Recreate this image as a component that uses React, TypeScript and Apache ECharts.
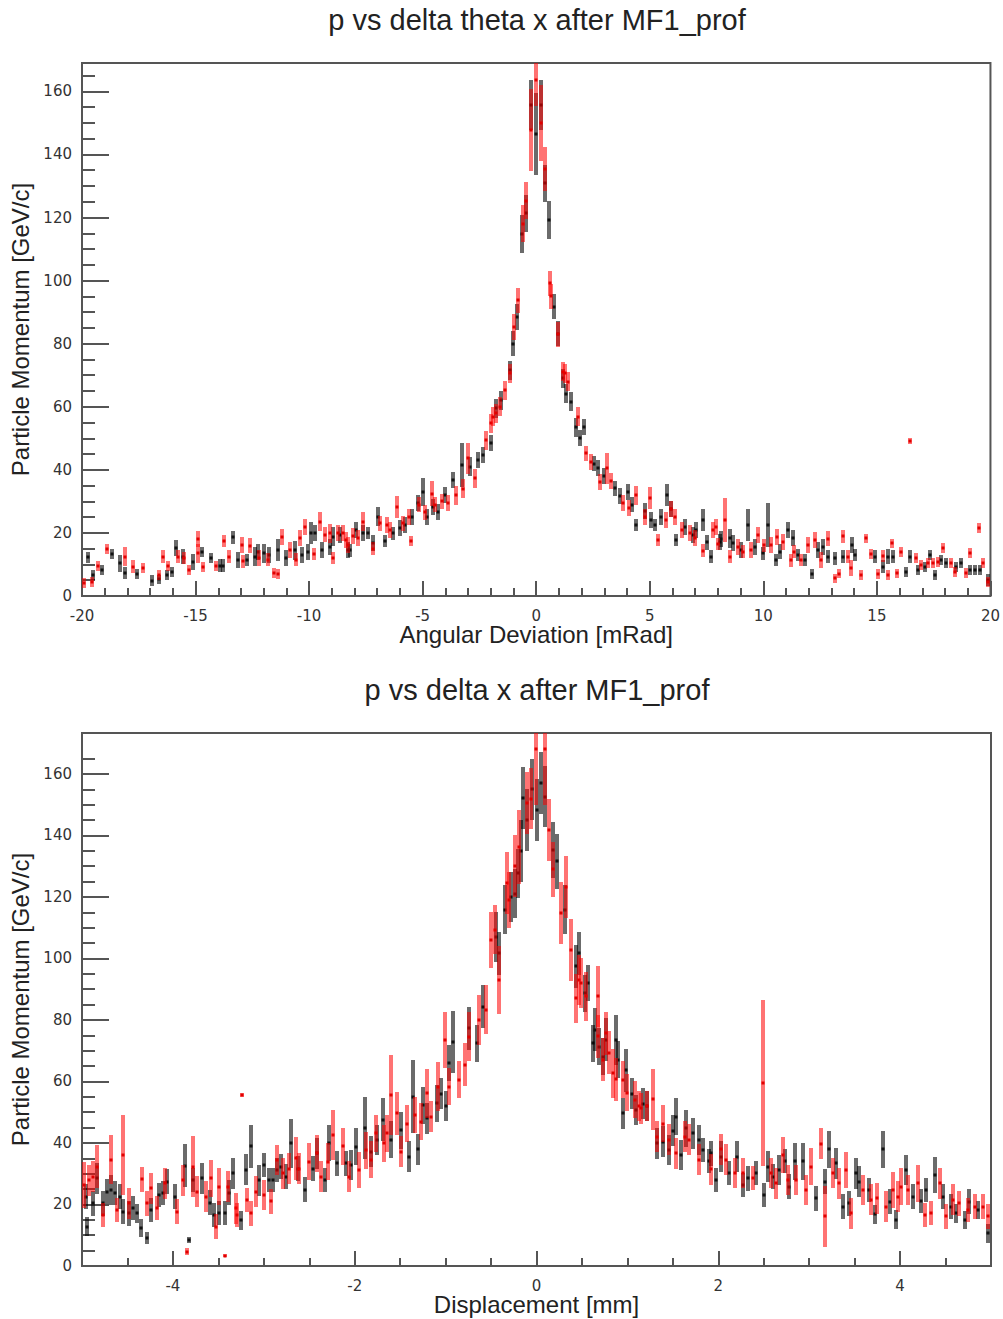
import React, { useEffect, useRef } from "react";
import * as echarts from "echarts";

const thetaTitle = "p vs delta theta x after MF1_prof";
const dispTitle = "p vs delta x after MF1_prof";
const thetaXName = "Angular Deviation [mRad]";
const dispXName = "Displacement [mm]";
const yName = "Particle Momentum [GeV/c]";

const thetaXMajor = [-20, -15, -10, -5, 0, 5, 10, 15, 20];
const thetaXMinor = [-19, -18, -17, -16, -14, -13, -12, -11, -9, -8, -7, -6, -4, -3, -2, -1, 1, 2, 3, 4, 6, 7, 8, 9, 11, 12, 13, 14, 16, 17, 18, 19];
const dispXMajor = [-4, -2, 0, 2, 4];
const dispXMinor = [-4.5, -3.5, -3, -2.5, -1.5, -1, -0.5, 0.5, 1, 1.5, 2.5, 3, 3.5, 4.5];
const yMajor = [0, 20, 40, 60, 80, 100, 120, 140, 160];
const yMinor = [5, 10, 15, 25, 30, 35, 45, 50, 55, 65, 70, 75, 85, 90, 95, 105, 110, 115, 125, 130, 135, 145, 150, 155, 165];

// [x, mean p, error]
const thetaBlack = [
  [-19.72, 12.3, 1.8], [-19.5, 6.6, 1.6], [-19.13, 8.2, 1.6], [-18.69, 13.2, 1.6], [-18.33, 10.4, 2.7],
  [-18.1, 7.3, 2.0], [-17.6, 7.0, 1.6], [-16.93, 4.9, 1.8], [-16.6, 5.3, 1.5], [-16.25, 6.6, 1.5],
  [-16.05, 7.7, 1.6], [-15.86, 15.1, 2.5], [-15.54, 12.5, 2.5], [-15.13, 10.9, 2.5], [-14.73, 14.0, 1.6],
  [-14.3, 12.0, 1.6], [-13.93, 9.6, 2.0], [-13.8, 9.6, 2.0], [-13.34, 18.6, 2.0], [-13.12, 11.4, 2.5],
  [-12.75, 11.4, 2.0], [-12.39, 12.5, 3.0], [-12.25, 14.0, 2.5], [-11.99, 13.5, 3.0], [-11.76, 13.0, 2.5],
  [-11.36, 14.6, 3.5], [-11.0, 12.0, 2.5], [-10.63, 14.5, 3.0], [-10.33, 13.0, 2.5], [-10.04, 13.9, 2.5],
  [-9.9, 19.9, 3.5], [-9.75, 19.9, 2.5], [-9.45, 14.5, 2.5], [-9.09, 15.6, 2.5], [-8.94, 18.8, 3.0],
  [-8.65, 19.4, 2.5], [-8.28, 14.6, 2.5], [-8.2, 14.5, 2.0], [-7.92, 21.0, 2.5], [-7.62, 20.0, 2.5],
  [-7.4, 20.0, 2.0], [-7.18, 16.7, 2.5], [-6.96, 25.1, 3.0], [-6.66, 17.4, 2.0], [-6.3, 19.9, 2.0],
  [-6.0, 21.6, 2.5], [-5.79, 22.5, 2.5], [-5.49, 25.1, 2.5], [-5.2, 29.4, 2.5], [-4.98, 33.0, 4.5],
  [-4.8, 25.0, 2.5], [-4.54, 28.3, 2.5], [-4.32, 26.7, 2.5], [-4.03, 32.0, 2.5], [-3.66, 36.8, 2.5],
  [-3.29, 41.5, 7.0], [-2.93, 41.0, 3.0], [-2.56, 43.1, 2.5], [-2.34, 44.7, 2.5], [-1.97, 48.4, 2.5],
  [-1.75, 59.5, 3.0], [-1.53, 62.1, 3.0], [-1.17, 71.6, 3.0], [-1.02, 80.0, 4.0], [-0.83, 88.5, 4.0],
  [-0.61, 114.9, 6.0], [-0.43, 121.3, 6.0], [-0.21, 155.6, 8.0], [-0.02, 146.6, 13.0], [0.2, 155.6, 8.0],
  [0.37, 130.8, 6.0], [0.56, 119.1, 6.0], [0.77, 91.7, 4.0], [0.96, 83.2, 4.0], [1.18, 69.0, 3.0],
  [1.33, 64.2, 3.0], [1.55, 61.6, 3.0], [1.77, 53.5, 3.0], [1.91, 50.0, 2.5], [2.1, 53.5, 2.5],
  [2.55, 42.0, 2.5], [2.72, 40.5, 2.5], [3.0, 38.0, 2.5], [3.45, 34.1, 2.5], [3.67, 31.8, 2.5],
  [4.04, 33.0, 2.5], [4.2, 29.0, 2.5], [4.41, 22.5, 2.0], [4.8, 27.0, 2.5], [5.05, 24.0, 2.5],
  [5.21, 22.5, 2.0], [5.5, 25.0, 2.5], [5.76, 32.0, 3.5], [5.95, 27.5, 2.5], [6.17, 17.7, 2.0],
  [6.55, 22.0, 2.5], [6.9, 19.3, 2.5], [7.05, 21.0, 2.5], [7.34, 24.1, 3.5], [7.5, 17.0, 2.5],
  [7.71, 12.5, 2.0], [8.07, 17.2, 2.5], [8.15, 18.0, 2.5], [8.52, 18.3, 3.0], [8.66, 16.7, 2.5],
  [9.03, 14.6, 2.5], [9.32, 22.5, 5.0], [9.62, 15.6, 2.5], [9.98, 13.5, 2.0], [10.2, 22.5, 7.0],
  [10.57, 11.4, 2.0], [10.72, 14.1, 2.5], [11.08, 20.9, 2.5], [11.3, 18.4, 2.5], [11.52, 13.0, 2.0],
  [11.82, 11.4, 2.0], [12.15, 7.0, 1.5], [12.4, 14.6, 2.5], [12.62, 15.6, 2.5], [12.84, 12.5, 2.0],
  [13.14, 11.9, 2.0], [13.5, 12.5, 2.0], [13.91, 16.2, 2.5], [14.02, 13.0, 2.0], [14.9, 12.5, 2.0],
  [15.26, 9.3, 2.0], [15.48, 12.5, 2.5], [15.7, 12.5, 2.0], [16.26, 7.7, 1.6], [16.44, 12.5, 2.0],
  [16.8, 8.3, 1.6], [17.1, 9.3, 1.6], [17.32, 13.0, 1.6], [17.54, 6.7, 1.6], [17.83, 11.4, 1.6],
  [18.05, 10.4, 1.6], [18.5, 9.3, 1.6], [18.72, 10.4, 1.6], [19.08, 8.2, 1.6], [19.3, 8.2, 1.6],
  [19.52, 8.2, 1.6], [19.89, 5.1, 2.0],
];

const thetaRed = [
  [-19.9, 4.0, 1.6], [-19.57, 4.5, 1.6], [-19.31, 9.6, 1.6], [-18.91, 14.9, 1.6], [-18.1, 12.5, 3.0],
  [-17.74, 9.3, 2.0], [-17.33, 8.8, 1.6], [-16.6, 6.7, 1.5], [-16.42, 12.5, 2.0], [-16.2, 9.6, 1.6],
  [-15.76, 12.5, 2.0], [-15.5, 12.0, 2.0], [-15.28, 8.2, 1.6], [-14.91, 18.0, 2.5], [-14.88, 13.5, 3.0],
  [-14.66, 9.3, 1.6], [-14.1, 9.6, 1.6], [-13.74, 17.4, 2.0], [-13.52, 12.5, 2.0], [-12.95, 16.2, 2.5],
  [-12.9, 11.0, 2.0], [-12.6, 16.0, 2.5], [-12.2, 12.0, 2.5], [-11.8, 11.5, 2.0], [-11.55, 7.2, 1.6],
  [-11.35, 7.0, 1.6], [-11.19, 18.8, 2.5], [-10.85, 14.5, 2.5], [-10.57, 11.5, 2.0], [-10.41, 18.3, 2.5],
  [-10.19, 22.0, 2.5], [-9.8, 13.3, 2.0], [-9.53, 23.5, 3.0], [-9.32, 19.5, 2.5], [-9.09, 19.9, 3.0],
  [-8.95, 12.0, 2.0], [-8.72, 20.0, 2.5], [-8.5, 20.0, 2.5], [-8.36, 17.8, 2.5], [-8.28, 16.1, 2.5],
  [-8.06, 19.0, 2.5], [-7.85, 18.5, 2.5], [-7.62, 23.5, 3.0], [-7.18, 15.0, 2.0], [-6.88, 23.0, 2.5],
  [-6.59, 22.5, 2.5], [-6.45, 21.0, 2.5], [-6.15, 28.3, 3.5], [-5.85, 23.0, 2.5], [-5.62, 25.0, 2.5],
  [-5.5, 17.3, 1.6], [-5.15, 29.0, 2.5], [-4.9, 26.5, 2.5], [-4.61, 32.5, 4.0], [-4.45, 29.0, 2.5],
  [-4.17, 30.0, 2.5], [-3.88, 29.5, 2.5], [-3.52, 32.0, 3.0], [-3.22, 34.0, 3.0], [-3.0, 43.6, 5.0],
  [-2.71, 37.3, 3.0], [-2.19, 49.4, 3.0], [-1.97, 54.7, 3.0], [-1.9, 56.8, 3.0], [-1.75, 57.9, 3.0],
  [-1.6, 60.0, 3.0], [-1.39, 65.3, 3.0], [-1.17, 70.6, 3.0], [-0.98, 85.3, 4.0], [-0.8, 93.8, 4.0],
  [-0.58, 118.1, 6.0], [-0.43, 125.4, 6.0], [-0.21, 147.7, 13.0], [-0.03, 163.5, 8.0], [0.2, 150.0, 12.0],
  [0.37, 135.5, 7.0], [0.59, 99.1, 4.0], [0.64, 95.0, 4.0], [0.96, 83.0, 4.0], [1.18, 71.1, 3.0],
  [1.25, 70.6, 3.0], [1.38, 68.0, 3.0], [1.84, 56.8, 3.0], [2.21, 45.2, 2.5], [2.43, 42.6, 2.5],
  [2.79, 36.2, 2.5], [3.12, 40.5, 5.0], [3.3, 36.5, 2.5], [3.82, 29.4, 2.5], [4.1, 28.0, 2.5],
  [4.41, 32.0, 3.0], [4.77, 25.1, 2.5], [4.99, 31.0, 3.5], [5.36, 17.7, 2.0], [5.7, 24.0, 2.5],
  [5.95, 27.5, 2.5], [6.1, 25.0, 2.5], [6.4, 21.0, 2.5], [6.75, 19.9, 2.5], [7.0, 18.5, 2.5],
  [7.34, 14.4, 2.0], [7.78, 20.9, 2.5], [7.93, 22.0, 2.5], [8.0, 16.5, 2.0], [8.32, 24.1, 7.0],
  [8.52, 12.5, 2.0], [8.88, 15.6, 2.5], [9.1, 14.1, 2.0], [9.46, 14.6, 2.5], [9.75, 19.3, 2.5],
  [10.05, 16.1, 2.0], [10.34, 16.1, 2.5], [10.59, 18.7, 2.5], [10.85, 17.2, 2.5], [11.2, 11.3, 2.0],
  [11.37, 14.1, 2.0], [11.67, 11.4, 2.0], [11.96, 16.2, 2.5], [12.26, 17.7, 2.5], [12.55, 11.4, 2.5],
  [12.85, 18.2, 2.5], [13.14, 5.6, 1.5], [13.33, 7.1, 1.5], [13.5, 18.9, 2.0], [13.72, 12.5, 2.0],
  [13.87, 8.8, 2.5], [14.31, 6.7, 1.5], [14.5, 18.3, 1.5], [14.75, 13.3, 1.6], [15.07, 7.0, 1.5],
  [15.29, 12.7, 2.0], [15.48, 6.7, 1.5], [15.66, 16.7, 1.5], [15.88, 7.2, 1.5], [16.07, 13.9, 1.5],
  [16.44, 49.1, 1.0], [16.73, 12.0, 1.6], [16.95, 9.9, 1.6], [17.25, 10.4, 1.6], [17.47, 10.4, 1.6],
  [17.69, 10.9, 1.6], [17.9, 15.1, 1.6], [18.28, 10.4, 1.6], [18.43, 7.7, 1.6], [18.91, 7.2, 1.6],
  [19.08, 13.7, 1.5], [19.49, 21.6, 1.5], [19.67, 10.4, 1.5], [19.9, 4.5, 1.5],
];

const dispBlack = [
  [-4.96, 22.5, 4], [-4.94, 12.8, 3], [-4.88, 20.4, 4], [-4.83, 28.5, 5], [-4.77, 20.4, 4],
  [-4.72, 24.2, 4], [-4.68, 24.7, 5], [-4.64, 23.7, 4], [-4.58, 22.5, 4], [-4.55, 17.7, 4],
  [-4.48, 17.1, 4], [-4.44, 18.8, 4], [-4.39, 17.1, 3], [-4.35, 12.3, 3], [-4.29, 9.0, 2],
  [-4.24, 18.2, 4], [-4.15, 23.1, 4], [-4.11, 23.7, 4], [-4.07, 27.4, 4], [-3.98, 22.5, 4],
  [-3.87, 32.6, 7], [-3.82, 8.4, 1], [-3.78, 27.9, 4], [-3.68, 28.5, 5], [-3.59, 20.6, 4],
  [-3.55, 16.6, 4], [-3.49, 17.2, 4], [-3.43, 17.2, 4], [-3.38, 23.8, 4], [-3.34, 30.1, 5],
  [-3.25, 14.8, 3], [-3.2, 31.3, 5], [-3.14, 39.0, 7], [-3.05, 27.9, 5], [-3.0, 32.9, 4],
  [-2.94, 28.0, 4], [-2.9, 27.9, 4], [-2.85, 31.2, 4], [-2.81, 32.3, 4], [-2.76, 29.1, 4],
  [-2.7, 39.9, 8], [-2.62, 31.7, 4], [-2.55, 24.8, 4], [-2.46, 31.7, 4], [-2.42, 36.6, 5],
  [-2.33, 28.0, 4], [-2.28, 40.0, 6], [-2.19, 33.4, 4], [-2.1, 33.4, 4], [-2.04, 32.8, 5],
  [-1.99, 38.8, 6], [-1.89, 44.8, 10], [-1.82, 37.2, 5], [-1.75, 41.0, 5], [-1.69, 47.5, 7],
  [-1.6, 41.1, 6], [-1.49, 44.2, 6], [-1.4, 35.6, 5], [-1.36, 55.1, 12], [-1.3, 38.0, 5],
  [-1.25, 52.3, 6], [-1.21, 48.0, 5], [-1.1, 52.9, 6], [-1.05, 56.0, 5], [-1.0, 52.0, 5],
  [-0.96, 66.0, 6], [-0.92, 72.9, 10], [-0.74, 77.3, 7], [-0.65, 72.4, 6], [-0.59, 84.3, 7],
  [-0.45, 107.0, 8], [-0.41, 101.7, 7], [-0.35, 115.8, 8], [-0.28, 120.0, 8], [-0.24, 121.0, 8],
  [-0.2, 127.7, 8], [-0.17, 135.0, 10], [-0.15, 152.1, 10], [-0.1, 145.0, 10], [-0.05, 155.0, 10],
  [0.0, 148.3, 10], [0.05, 157.0, 10], [0.09, 152.6, 10], [0.18, 135.3, 9], [0.23, 131.6, 9],
  [0.31, 115.8, 8], [0.44, 97.4, 7], [0.47, 101.7, 7], [0.53, 88.7, 6], [0.57, 92.0, 6],
  [0.62, 72.4, 6], [0.64, 76.8, 7], [0.69, 71.3, 6], [0.73, 68.0, 6], [0.76, 73.5, 7],
  [0.87, 73.5, 8], [0.9, 67.0, 6], [0.95, 49.6, 5], [0.99, 63.7, 7], [1.05, 56.0, 5],
  [1.1, 50.7, 5], [1.17, 52.8, 5], [1.22, 52.0, 5], [1.33, 39.9, 5], [1.39, 40.4, 5],
  [1.46, 37.7, 5], [1.5, 44.0, 5], [1.54, 48.6, 6], [1.59, 36.1, 5], [1.65, 44.8, 6],
  [1.72, 43.2, 5], [1.79, 41.0, 5], [1.83, 37.7, 4], [1.9, 34.1, 4], [1.92, 36.6, 4],
  [1.98, 28.0, 4], [2.03, 35.6, 5], [2.12, 30.2, 4], [2.21, 35.5, 5], [2.27, 26.4, 4],
  [2.33, 28.5, 4], [2.42, 30.2, 4], [2.5, 23.1, 4], [2.55, 32.3, 5], [2.6, 29.1, 4],
  [2.67, 31.2, 5], [2.73, 34.1, 4], [2.78, 25.8, 4], [2.84, 34.1, 6], [2.93, 34.1, 6],
  [3.08, 22.0, 4], [3.17, 27.4, 4], [3.22, 37.9, 6], [3.3, 33.4, 5], [3.37, 19.3, 4],
  [3.44, 20.4, 4], [3.52, 30.1, 5], [3.55, 27.4, 5], [3.66, 24.7, 4], [3.72, 16.8, 3],
  [3.81, 37.9, 6], [3.89, 20.9, 4], [3.96, 15.1, 3], [4.07, 31.2, 5], [4.14, 22.5, 4],
  [4.23, 21.1, 4], [4.29, 24.7, 4], [4.38, 29.6, 6], [4.47, 22.5, 4], [4.56, 19.3, 4],
  [4.62, 17.1, 3], [4.71, 15.0, 3], [4.76, 20.9, 4], [4.86, 18.2, 3], [4.97, 10.6, 3],
];

const dispRed = [
  [-4.975, 26.3, 7.6], [-4.92, 27.9, 5], [-4.88, 29.0, 5], [-4.83, 32.3, 7], [-4.77, 16.6, 4],
  [-4.68, 34.5, 8], [-4.61, 18.2, 4], [-4.55, 36.1, 13], [-4.48, 20.4, 5], [-4.34, 28.2, 4],
  [-4.29, 20.4, 4], [-4.24, 25.3, 5], [-4.17, 18.8, 4], [-4.09, 26.9, 5], [-3.96, 17.7, 4],
  [-3.89, 27.9, 5], [-3.84, 4.7, 1], [-3.78, 32.3, 10], [-3.73, 24.2, 5], [-3.64, 22.5, 5],
  [-3.58, 28.5, 6], [-3.53, 12.8, 4], [-3.49, 25.8, 6], [-3.43, 3.3, 0.5], [-3.39, 25.8, 5],
  [-3.31, 18.8, 5], [-3.29, 16.6, 4], [-3.24, 55.6, 0.5], [-3.19, 21.5, 4], [-3.14, 17.1, 4],
  [-3.09, 24.2, 5], [-3.0, 23.1, 5], [-2.92, 21.0, 4], [-2.85, 34.5, 5], [-2.79, 30.1, 5],
  [-2.72, 31.7, 5], [-2.65, 35.1, 7], [-2.61, 31.7, 5], [-2.5, 33.9, 6], [-2.42, 36.6, 6],
  [-2.37, 29.0, 5], [-2.29, 33.9, 6], [-2.24, 42.6, 8], [-2.13, 38.9, 6], [-2.06, 29.0, 5],
  [-1.95, 31.2, 6], [-1.88, 37.7, 6], [-1.82, 34.5, 6], [-1.77, 43.2, 6], [-1.68, 39.9, 6],
  [-1.65, 43.2, 6], [-1.6, 55.6, 13], [-1.54, 49.6, 7], [-1.49, 37.2, 5], [-1.43, 46.3, 6],
  [-1.34, 49.1, 6], [-1.27, 46.9, 6], [-1.21, 56.2, 8], [-1.16, 48.6, 5], [-1.08, 58.3, 8],
  [-1.01, 73.5, 9], [-0.96, 58.3, 6], [-0.85, 60.5, 6], [-0.79, 65.4, 7], [-0.74, 74.6, 8],
  [-0.63, 80.0, 8], [-0.56, 83.3, 8], [-0.5, 106.0, 9], [-0.46, 109.3, 8], [-0.41, 93.0, 11],
  [-0.33, 124.5, 10], [-0.3, 119.0, 9], [-0.24, 130.0, 10], [-0.19, 136.3, 12], [-0.11, 150.5, 10],
  [-0.06, 152.0, 10], [-0.01, 168.0, 18], [0.09, 168.0, 18], [0.14, 141.8, 10], [0.18, 129.0, 9],
  [0.27, 114.7, 10], [0.33, 123.3, 10], [0.38, 102.8, 10], [0.44, 87.1, 8], [0.47, 93.0, 8],
  [0.49, 92.0, 8], [0.55, 87.7, 8], [0.68, 87.7, 10], [0.68, 74.7, 7], [0.73, 67.0, 7],
  [0.77, 75.7, 7], [0.8, 69.3, 7], [0.84, 62.7, 8], [0.88, 60.7, 7], [0.95, 60.5, 6],
  [1.0, 56.3, 6], [1.08, 54.0, 6], [1.13, 52.0, 5], [1.15, 51.3, 5], [1.22, 52.0, 5],
  [1.28, 54.2, 10], [1.33, 42.1, 5], [1.39, 46.3, 6], [1.46, 41.1, 5], [1.54, 36.7, 5],
  [1.63, 42.1, 5], [1.68, 41.1, 5], [1.79, 34.6, 5], [1.92, 31.4, 5], [2.03, 37.9, 5],
  [2.09, 34.6, 5], [2.18, 30.2, 5], [2.27, 30.2, 5], [2.38, 28.6, 4], [2.49, 59.4, 27],
  [2.58, 30.2, 5], [2.64, 26.9, 5], [2.71, 36.1, 6], [2.77, 28.0, 5], [2.86, 28.0, 5],
  [2.97, 24.7, 5], [3.02, 32.3, 6], [3.13, 39.8, 5], [3.17, 16.1, 10], [3.26, 30.2, 5],
  [3.33, 26.9, 5], [3.41, 31.2, 6], [3.46, 17.1, 5], [3.59, 24.7, 5], [3.68, 21.5, 5],
  [3.75, 22.0, 5], [3.85, 19.3, 5], [3.92, 24.7, 6], [3.98, 22.5, 5], [4.01, 25.8, 6],
  [4.09, 24.7, 5], [4.2, 26.9, 6], [4.27, 16.6, 4], [4.34, 17.2, 4], [4.44, 26.9, 5],
  [4.51, 16.1, 4], [4.58, 21.5, 5], [4.65, 20.4, 4], [4.75, 18.2, 4], [4.82, 19.3, 4],
  [4.91, 19.3, 4], [4.97, 16.1, 4],
];

const FONT = "'Liberation Sans', Arial, sans-serif";
const TICKFONT = "'DejaVu Sans', sans-serif";
const AXIS_COLOR = "#555";

function errRender(bar: string, mark: string) {
  return (_params: any, api: any) => {
    const x = api.value(0);
    const y = api.value(1);
    const e = api.value(2);
    const c = api.coord([x, y]);
    const t = api.coord([x, y + e]);
    const b = api.coord([x, y - e]);
    const px = Math.round(c[0]) - 2;
    const top = Math.round(t[1]);
    const h = Math.max(Math.round(b[1]) - top, 3);
    return {
      type: "group",
      children: [
        { type: "rect", shape: { x: px, y: top, width: 4, height: h }, style: { fill: bar } },
        { type: "rect", shape: { x: px + 0.5, y: Math.round(c[1]) - 1.5, width: 3, height: 3 }, style: { fill: mark } },
      ],
    };
  };
}

function xMajor(gridIndex: number, min: number, max: number, ticks: number[], name: string) {
  return {
    type: "value", gridIndex, min, max, interval: 1, position: "bottom",
    name, nameLocation: "middle", nameGap: 26, nameMoveOverlap: false,
    nameTextStyle: { fontSize: 24, color: "#222", fontFamily: FONT },
    axisLine: { show: false, onZero: false }, splitLine: { show: false },
    axisTick: { show: true, inside: true, length: 15, customValues: ticks, lineStyle: { color: AXIS_COLOR, width: 2 } },
    axisLabel: { show: true, customValues: ticks, margin: 12, fontSize: 15, color: "#333", fontFamily: TICKFONT },
  };
}
function xMinor(gridIndex: number, min: number, max: number, ticks: number[]) {
  return {
    type: "value", gridIndex, min, max, interval: 1, position: "bottom",
    axisLine: { show: false, onZero: false }, splitLine: { show: false }, axisLabel: { show: false },
    axisTick: { show: true, inside: true, length: 8, customValues: ticks, lineStyle: { color: AXIS_COLOR, width: 2 } },
  };
}
function yMajorAxis(gridIndex: number, max: number) {
  return {
    type: "value", gridIndex, min: 0, max, interval: 20, position: "left",
    name: yName, nameLocation: "middle", nameGap: 50, nameMoveOverlap: false,
    nameTextStyle: { fontSize: 24, color: "#222", fontFamily: FONT },
    axisLine: { show: false, onZero: false }, splitLine: { show: false },
    axisTick: { show: true, inside: true, length: 27, customValues: yMajor, lineStyle: { color: AXIS_COLOR, width: 2 } },
    axisLabel: { show: true, customValues: yMajor, margin: 10, fontSize: 15, color: "#333", fontFamily: TICKFONT },
  };
}
function yMinorAxis(gridIndex: number, max: number) {
  return {
    type: "value", gridIndex, min: 0, max, interval: 20, position: "left",
    axisLine: { show: false, onZero: false }, splitLine: { show: false }, axisLabel: { show: false },
    axisTick: { show: true, inside: true, length: 13, customValues: yMinor, lineStyle: { color: AXIS_COLOR, width: 2 } },
  };
}

const BLACK_BAR = "rgba(0,0,0,0.58)";
const BLACK_MARK = "#111";
const RED_BAR = "rgba(255,0,0,0.55)";
const RED_MARK = "#e00000";

function series(name: string, data: number[][], xi: number, yi: number, bar: string, mark: string) {
  return {
    type: "custom", name, data, xAxisIndex: xi, yAxisIndex: yi, clip: true,
    dimensions: ["x", "p", "err"], encode: { x: 0, y: 1 },
    renderItem: errRender(bar, mark),
  };
}

export default function App() {
  const ref = useRef<HTMLDivElement>(null);
  useEffect(() => {
    document.body.style.margin = "0";
    const chart = echarts.init(ref.current!, undefined, { renderer: "svg" });
    chart.setOption({
      animation: false,
      backgroundColor: "#fff",
      title: [
        { text: thetaTitle, left: 537, top: 5, textAlign: "center", padding: 0, textStyle: { fontSize: 29, fontWeight: "normal", color: "#222", fontFamily: FONT } },
        { text: dispTitle, left: 537, top: 675, textAlign: "center", padding: 0, textStyle: { fontSize: 29, fontWeight: "normal", color: "#222", fontFamily: FONT } },
      ],
      grid: [
        { left: 82, top: 63, width: 909, height: 533, show: true, borderColor: AXIS_COLOR, borderWidth: 2, backgroundColor: "transparent" },
        { left: 82, top: 733, width: 909, height: 533, show: true, borderColor: AXIS_COLOR, borderWidth: 2, backgroundColor: "transparent" },
      ],
      xAxis: [
        xMajor(0, -20, 20, thetaXMajor, thetaXName),
        xMinor(0, -20, 20, thetaXMinor),
        xMajor(1, -5, 5, dispXMajor, dispXName),
        xMinor(1, -5, 5, dispXMinor),
      ],
      yAxis: [yMajorAxis(0, 169), yMinorAxis(0, 169), yMajorAxis(1, 173.3), yMinorAxis(1, 173.3)],
      series: [
        series("theta black", thetaBlack, 0, 0, BLACK_BAR, BLACK_MARK),
        series("theta red", thetaRed, 0, 0, RED_BAR, RED_MARK),
        series("disp black", dispBlack, 2, 2, BLACK_BAR, BLACK_MARK),
        series("disp red", dispRed, 2, 2, RED_BAR, RED_MARK),
      ],
    });
    return () => chart.dispose();
  }, []);
  return <div ref={ref} style={{ width: 1003, height: 1319 }} />;
}
